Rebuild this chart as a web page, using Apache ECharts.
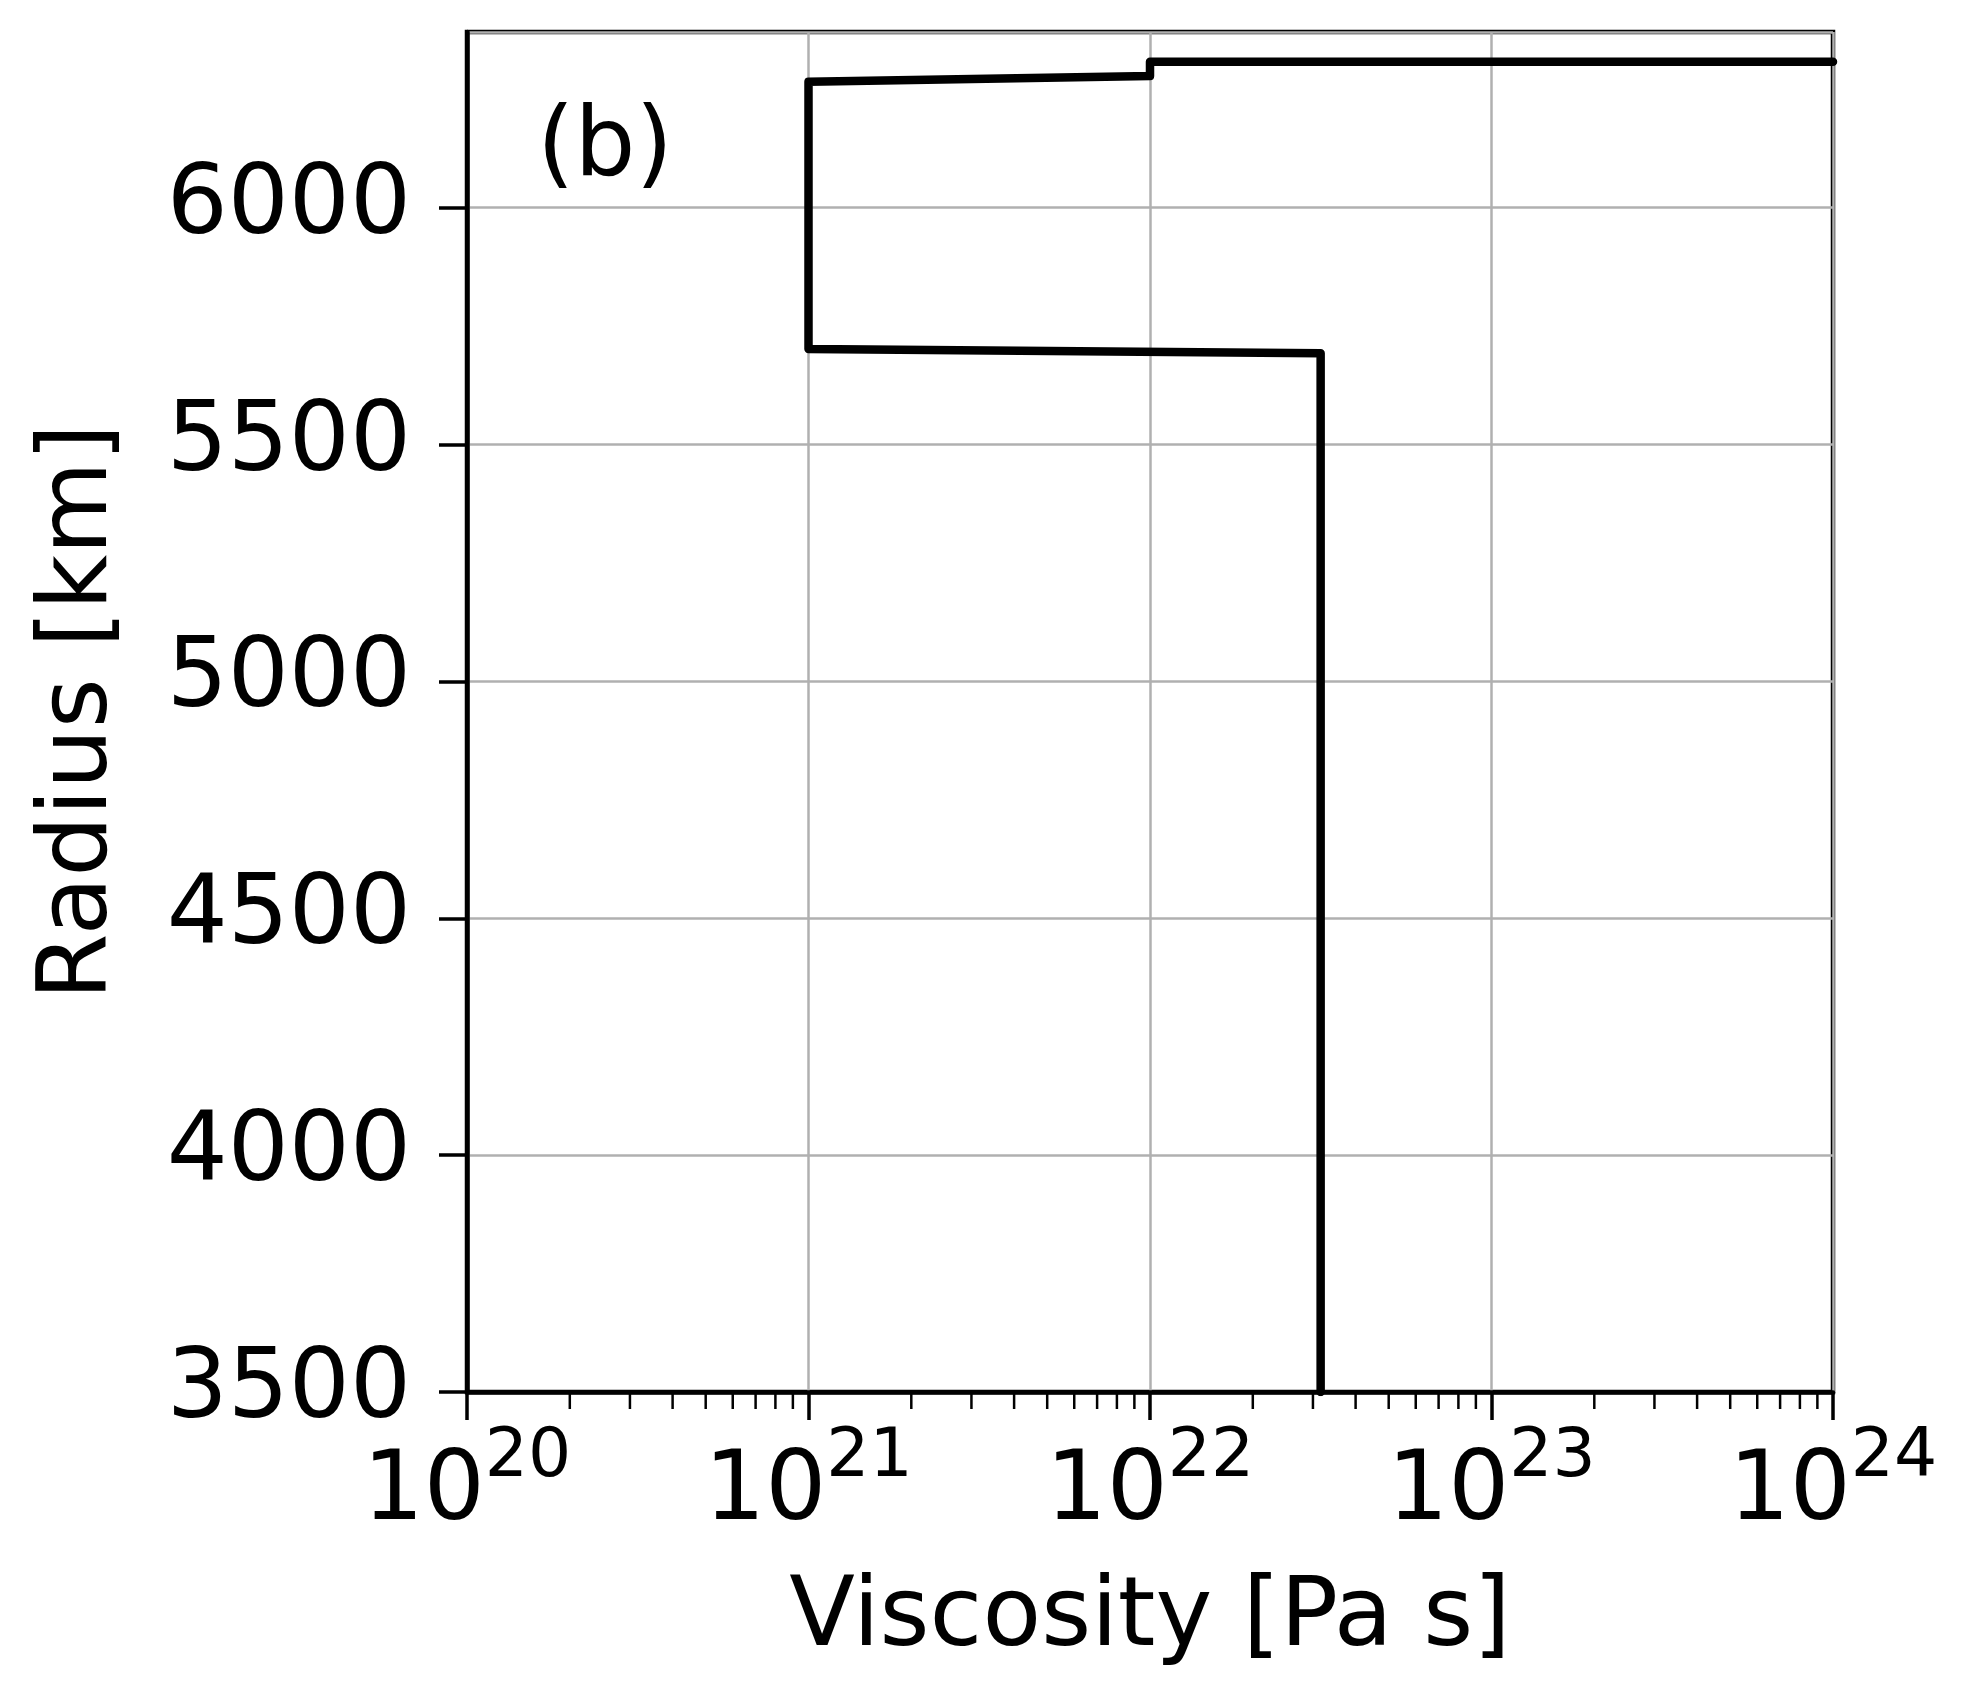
<!DOCTYPE html>
<html>
<head>
<meta charset="utf-8">
<script src="https://cdn.jsdelivr.net/npm/echarts@6/dist/echarts.min.js"></script>
<style>
  html, body { margin: 0; padding: 0; background: #fff; }
  #chart { width: 1986px; height: 1696px; }
</style>
</head>
<body>
<div id="chart"></div>
<script>
// Viscosity profile (Pa s) against radius (km), traced top to bottom
const viscosity = [1e24, 1e22, 1e22, 1e21, 1e21, 3.16e22, 3.16e22];
const radius    = [6308, 6308, 6278, 6266, 5702, 5693, 3500];

// Axis ranges and tick labels
const xMin = 1e20, xMax = 1e24;
const yMin = 3500, yMax = 6371;
const yTicks = [3500, 4000, 4500, 5000, 5500, 6000];

// Minor log ticks (2..9 x 10^n) between the decades
const minorTicks = [];
for (let e = 20; e < 24; e++) {
  for (let m = 2; m <= 9; m++) minorTicks.push([m * Math.pow(10, e), yMin]);
}

const FONT = 'DejaVu Sans';
const FS = 96;
const chart = echarts.init(document.getElementById('chart'), null, { renderer: 'canvas' });

chart.setOption({
  animation: false,
  backgroundColor: '#ffffff',
  grid: {
    left: 467, right: 153, top: 32, bottom: 304,
    show: true, borderColor: '#000', borderWidth: 4.5, backgroundColor: 'transparent'
  },
  xAxis: {
    type: 'log', logBase: 10, min: xMin, max: xMax,
    name: 'Viscosity [Pa s]', nameLocation: 'middle', nameGap: 180,
    nameTextStyle: { fontFamily: FONT, fontSize: FS, color: '#000' },
    axisLine: { show: true, lineStyle: { color: '#000', width: 4.5 } },
    axisTick: { show: true, inside: false, length: 28, lineStyle: { color: '#000', width: 3.5 } },
    minorTick: { show: false },
    splitLine: { show: true, lineStyle: { color: '#b0b0b0', width: 2.5 } },
    axisLabel: {
      margin: 32,
      formatter: v => '{b|10}{s|' + Math.round(Math.log10(v)) + '}',
      rich: {
        b: { fontFamily: FONT, fontSize: FS, color: '#000', lineHeight: 118, verticalAlign: 'bottom' },
        s: { fontFamily: FONT, fontSize: 68, color: '#000', lineHeight: 118, verticalAlign: 'top' }
      }
    }
  },
  yAxis: {
    type: 'value', min: yMin, max: yMax, interval: 500,
    name: 'Radius [km]', nameLocation: 'middle', nameGap: 338, nameRotate: 90,
    nameTextStyle: { fontFamily: FONT, fontSize: FS, color: '#000' },
    axisLine: { show: true, lineStyle: { color: '#000', width: 4.5 } },
    axisTick: { show: true, inside: false, length: 28, lineStyle: { color: '#000', width: 3.5 } },
    splitLine: { show: true, lineStyle: { color: '#b0b0b0', width: 2.5 } },
    axisLabel: {
      margin: 56, fontFamily: FONT, fontSize: FS, color: '#000',
      formatter: v => (yTicks.indexOf(v) >= 0 ? String(v) : ''),
      showMaxLabel: false
    }
  },
  graphic: [{
    type: 'text',
    style: { text: '(b)', x: 537, y: 150, font: FS + 'px "DejaVu Sans"', fill: '#000', textVerticalAlign: 'middle' }
  }],
  series: [
    {
      type: 'line',
      data: viscosity.map((v, i) => [v, radius[i]]),
      showSymbol: false, symbol: 'none',
      lineStyle: { color: '#000', width: 8.5, join: 'round', cap: 'round' },
      clip: true,
      z: 5
    },
    {
      type: 'custom',
      data: minorTicks,
      clip: false,
      silent: true,
      renderItem: (params, api) => {
        const p = api.coord([api.value(0), api.value(1)]);
        return {
          type: 'line',
          shape: { x1: p[0], y1: p[1], x2: p[0], y2: p[1] + 17 },
          style: { stroke: '#000', lineWidth: 2.5 }
        };
      },
      z: 4
    }
  ]
});
</script>
</body>
</html>
